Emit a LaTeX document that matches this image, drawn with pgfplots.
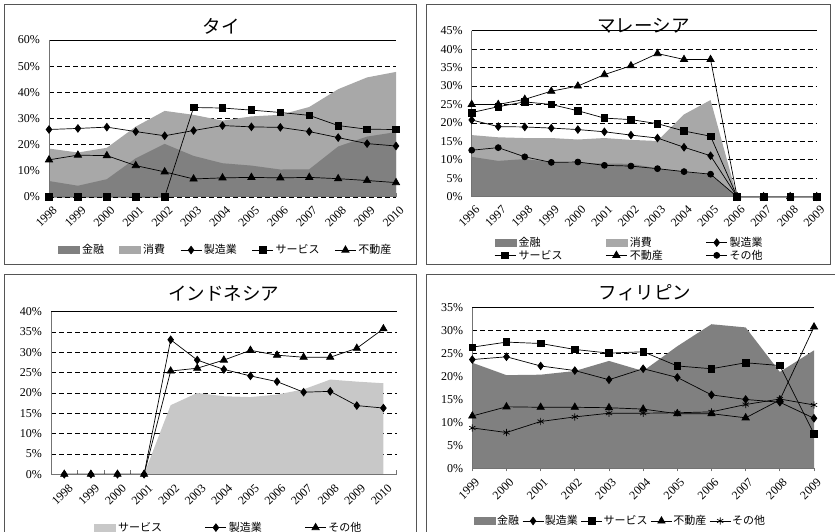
\documentclass[border=0pt]{standalone}
\usepackage{fontspec}
\setmainfont{Liberation Serif}
\newfontfamily\jp{Noto Sans CJK JP}
\usepackage{pgfplots}
\pgfplotsset{compat=1.18}

\definecolor{fin}{RGB}{128,128,128}
\definecolor{cons}{RGB}{168,168,168}
\definecolor{serv}{RGB}{200,200,200}
\definecolor{frame}{RGB}{85,85,85}
\definecolor{axisgray}{RGB}{115,115,115}

\pgfplotsset{
  panel/.style={
    scale only axis, clip=false, anchor=south west,
    axis x line*=bottom, axis y line*=left,
    axis line style={axisgray, line width=1pt, -},
    ymajorgrids,
    major grid style={black, line width=0.7pt, dash pattern=on 5pt off 3pt},
    ymin=0,
    tick align=inside,
    major tick length=4pt,
    ytick style={draw=none},
    xtick style={draw=axisgray, line width=0.8pt},
    /pgf/number format/assume math mode=true,
    /pgf/number format/1000 sep={},
    yticklabel style={font=\fontsize{12}{12}\selectfont, inner sep=0pt, xshift=-9pt},
    xticklabel style={font=\fontsize{12}{12}\selectfont, inner sep=0pt,
      xshift=6pt, yshift=-11pt, rotate=45, anchor=east},
    legend style={draw=none, fill=none, inner sep=0pt,
      font=\jp\fontsize{11}{13}\selectfont, nodes={inner sep=1pt}},
    legend cell align=left,
    legend image code/.code={%
      \draw[mark repeat=2, mark phase=2, ##1] plot coordinates {(0pt,0pt) (10.5pt,0pt) (21pt,0pt)};},
  },
  ser/.style={black, line width=0.7pt, mark options={solid, fill=black}},
  arealeg/.style={legend image code/.code={\fill[##1] (0pt,-4pt) rectangle (22pt,4pt);}},
  dia/.style={ser, mark=diamond*, mark size=3.8pt},
  sqr/.style={ser, mark=square*, mark size=3.3pt},
  tri/.style={ser, mark=triangle*, mark size=4.2pt},
  cir/.style={ser, mark=*, mark size=3pt},
  sta/.style={ser, mark=asterisk, mark size=3.6pt},
}

\begin{document}
\begin{tikzpicture}
\path[use as bounding box] (0pt,0pt) rectangle (835pt,532pt);

% panel frames
\draw[frame, line width=0.8pt] (4pt,268pt) rectangle (416pt,528pt);
\draw[frame, line width=0.8pt] (426pt,268pt) rectangle (830pt,528pt);
\draw[frame, line width=0.8pt] (4pt,0pt) -- (4pt,258pt) -- (416pt,258pt) -- (416pt,0pt);
\draw[frame, line width=0.8pt] (426pt,0pt) -- (426pt,258pt) -- (835pt,258pt);

% panel titles
\node[font=\jp\fontsize{18.5}{18.5}\selectfont] at (221pt,506pt) {タイ};
\node[font=\jp\fontsize{18.5}{18.5}\selectfont] at (643.5pt,506.5pt) {マレーシア};
\node[font=\jp\fontsize{18.5}{18.5}\selectfont] at (223.5pt,238.5pt) {インドネシア};
\node[font=\jp\fontsize{18.5}{18.5}\selectfont] at (645pt,239pt) {フィリピン};

% ---------------- Thailand ----------------
\begin{axis}[panel, at={(49pt,335pt)}, width=347pt, height=157pt,
  xmin=1998, xmax=2010, ymax=60,
  xtick={1998,...,2010},
  ytick={0,10,...,60}, yticklabels={0\%,10\%,20\%,30\%,40\%,50\%,60\%},
  legend columns=5,
  legend style={at={(0.026,-0.338)}, anchor=west,
    /tikz/every odd column/.append style={column sep=1pt},
    /tikz/every even column/.append style={column sep=14pt}},
]
\addplot[fill=cons, draw=none, forget plot] coordinates {
  (1998,18.5) (1999,17.0) (2000,18.8) (2001,26.9) (2002,32.9) (2003,31.4) (2004,29.2)
  (2005,30.8) (2006,31.4) (2007,34.4) (2008,41.2) (2009,45.7) (2010,47.8)} \closedcycle;
\addplot[fill=fin, draw=none, arealeg] coordinates {
  (1998,6.1) (1999,4.3) (2000,6.8) (2001,14.8) (2002,20.3) (2003,15.7) (2004,12.9)
  (2005,12.0) (2006,10.5) (2007,10.6) (2008,19.3) (2009,23.1) (2010,24.8)} \closedcycle;
\addlegendentry{金融}
\addlegendimage{fill=cons, draw=none, arealeg}
\addlegendentry{消費}
\addplot[dia] coordinates {
  (1998,25.8) (1999,26.2) (2000,26.7) (2001,25.0) (2002,23.4) (2003,25.4) (2004,27.3)
  (2005,26.8) (2006,26.6) (2007,25.0) (2008,22.7) (2009,20.4) (2010,19.5)};
\addlegendentry{製造業}
\addplot[sqr] coordinates {
  (1998,0) (1999,0) (2000,0) (2001,0) (2002,0) (2003,34.2) (2004,34.0)
  (2005,33.2) (2006,32.3) (2007,31.2) (2008,27.3) (2009,25.9) (2010,25.8)};
\addlegendentry{サービス}
\addplot[tri] coordinates {
  (1998,14.2) (1999,16.0) (2000,15.8) (2001,12.0) (2002,9.6) (2003,6.9) (2004,7.3)
  (2005,7.5) (2006,7.3) (2007,7.5) (2008,7.0) (2009,6.3) (2010,5.5)};
\addlegendentry{不動産}
\draw[black, line width=0.8pt] (rel axis cs:0,1) -- (rel axis cs:1,1);
\draw[axisgray, line width=1pt] (rel axis cs:0,1) -- (rel axis cs:0,0) -- (rel axis cs:1,0);
\end{axis}

% ---------------- Malaysia ----------------
\begin{axis}[panel, at={(471.7pt,335.3pt)}, width=345pt, height=166pt,
  xmin=1996, xmax=2009, ymax=45,
  xtick={1996,...,2009},
  ytick={0,5,...,45}, yticklabels={0\%,5\%,10\%,15\%,20\%,25\%,30\%,35\%,40\%,45\%},
  legend columns=3,
  legend style={at={(0.0646,-0.315)}, anchor=west,
    /tikz/every odd column/.append style={column sep=1pt},
    /tikz/every even column/.append style={column sep=42pt}},
]
\addplot[fill=cons, draw=none, forget plot] coordinates {
  (1996,16.7) (1997,16.1) (1998,15.9) (1999,15.9) (2000,15.5) (2001,15.9) (2002,15.4)
  (2003,15.1) (2004,22.3) (2005,26.2) (2006,0) (2007,0) (2008,0) (2009,0)} \closedcycle;
\addplot[fill=fin, draw=none, arealeg] coordinates {
  (1996,10.8) (1997,9.7) (1998,10.2) (1999,9.4) (2000,9.2) (2001,9.0) (2002,8.9)
  (2003,7.7) (2004,6.8) (2005,5.9) (2006,0) (2007,0) (2008,0) (2009,0)} \closedcycle;
\addlegendentry{金融}
\addlegendimage{fill=cons, draw=none, arealeg}
\addlegendentry{消費}
\addplot[dia] coordinates {
  (1996,20.8) (1997,19.0) (1998,18.9) (1999,18.6) (2000,18.2) (2001,17.6) (2002,16.7)
  (2003,15.9) (2004,13.4) (2005,11.1) (2006,0) (2007,0) (2008,0) (2009,0)};
\addlegendentry{製造業}
\addplot[sqr] coordinates {
  (1996,22.8) (1997,24.4) (1998,25.7) (1999,25.0) (2000,23.3) (2001,21.3) (2002,20.9)
  (2003,19.8) (2004,17.8) (2005,16.4) (2006,0) (2007,0) (2008,0) (2009,0)};
\addlegendentry{サービス}
\addplot[tri] coordinates {
  (1996,25.0) (1997,25.0) (1998,26.4) (1999,28.6) (2000,30.0) (2001,33.1) (2002,35.5)
  (2003,38.8) (2004,37.2) (2005,37.2) (2006,0) (2007,0) (2008,0) (2009,0)};
\addlegendentry{不動産}
\addplot[cir] coordinates {
  (1996,12.6) (1997,13.3) (1998,10.8) (1999,9.3) (2000,9.4) (2001,8.5) (2002,8.3)
  (2003,7.6) (2004,6.8) (2005,6.1) (2006,0) (2007,0) (2008,0) (2009,0)};
\addlegendentry{その他}
\draw[black, line width=0.8pt] (rel axis cs:0,1) -- (rel axis cs:1,1);
\draw[axisgray, line width=1pt] (rel axis cs:0,1) -- (rel axis cs:0,0) -- (rel axis cs:1,0);
\end{axis}

% ---------------- Indonesia ----------------
\begin{axis}[panel, at={(51pt,57.7pt)}, width=345.7pt, height=162.6pt,
  xmin=1997.5, xmax=2010.5, ymax=40,
  xtick={1998,...,2010},
  major x tick style={draw=none},
  minor xtick={1997.5,1998.5,...,2010.5},
  minor tick length=4pt,
  minor x tick style={draw=axisgray, line width=0.8pt},
  xticklabel style={yshift=-1pt},
  ytick={0,5,...,40}, yticklabels={0\%,5\%,10\%,15\%,20\%,25\%,30\%,35\%,40\%},
  legend columns=3,
  legend style={at={(0.124,-0.328)}, anchor=west,
    /tikz/every odd column/.append style={column sep=1pt},
    /tikz/every even column/.append style={column sep=42pt}},
]
\addplot[fill=serv, draw=none, arealeg] coordinates {
  (1998,0) (1999,0) (2000,0) (2001,0) (2002,17.0) (2003,20.0) (2004,19.2)
  (2005,19.0) (2006,19.6) (2007,20.9) (2008,23.3) (2009,22.8) (2010,22.4)} \closedcycle;
\addlegendentry{サービス}
\addplot[dia] coordinates {
  (1998,0) (1999,0) (2000,0) (2001,0) (2002,33.1) (2003,28.1) (2004,25.8)
  (2005,24.2) (2006,22.8) (2007,20.2) (2008,20.4) (2009,16.9) (2010,16.3)};
\addlegendentry{製造業}
\addplot[tri] coordinates {
  (1998,0) (1999,0) (2000,0) (2001,0) (2002,25.4) (2003,26.1) (2004,28.1)
  (2005,30.5) (2006,29.3) (2007,28.8) (2008,28.8) (2009,31.0) (2010,35.8)};
\addlegendentry{その他}
\draw[black, line width=0.8pt] (rel axis cs:0,1) -- (rel axis cs:1,1);
\draw[axisgray, line width=1pt] (rel axis cs:0,1) -- (rel axis cs:0,0) -- (rel axis cs:1,0);
\end{axis}

% ---------------- Philippines ----------------
\begin{axis}[panel, at={(472.3pt,63.7pt)}, width=341.7pt, height=160.6pt,
  xmin=1999, xmax=2009, ymax=35,
  xtick={1999,...,2009},
  tick align=outside, major tick length=3pt,
  yticklabel style={xshift=3pt},
  xticklabel style={xshift=1pt, yshift=2pt},
  ytick={0,5,...,35}, yticklabels={0\%,5\%,10\%,15\%,20\%,25\%,30\%,35\%},
  legend columns=5,
  legend style={at={(0.005,-0.328)}, anchor=west,
    /tikz/every odd column/.append style={column sep=0pt},
    /tikz/every even column/.append style={column sep=2pt}},
]
\addplot[fill=fin, draw=none, arealeg] coordinates {
  (1999,23.0) (2000,20.3) (2001,20.4) (2002,21.2) (2003,23.4) (2004,21.2)
  (2005,26.6) (2006,31.4) (2007,30.7) (2008,21.0) (2009,25.7)} \closedcycle;
\addlegendentry{金融}
\addplot[dia] coordinates {
  (1999,23.7) (2000,24.3) (2001,22.3) (2002,21.3) (2003,19.3) (2004,21.7)
  (2005,19.8) (2006,16.0) (2007,15.0) (2008,14.4) (2009,10.9)};
\addlegendentry{製造業}
\addplot[sqr] coordinates {
  (1999,26.4) (2000,27.5) (2001,27.2) (2002,25.9) (2003,25.1) (2004,25.4)
  (2005,22.3) (2006,21.7) (2007,23.0) (2008,22.4) (2009,7.5)};
\addlegendentry{サービス}
\addplot[tri] coordinates {
  (1999,11.4) (2000,13.4) (2001,13.3) (2002,13.3) (2003,13.2) (2004,12.9)
  (2005,11.9) (2006,11.9) (2007,11.0) (2008,14.9) (2009,30.8)};
\addlegendentry{不動産}
\addplot[sta] coordinates {
  (1999,8.8) (2000,7.8) (2001,10.2) (2002,11.2) (2003,12.0) (2004,12.0)
  (2005,12.1) (2006,12.3) (2007,13.9) (2008,15.1) (2009,13.8)};
\addlegendentry{その他}
\draw[black, line width=0.8pt] (rel axis cs:0,1) -- (rel axis cs:1,1);
\draw[axisgray, line width=1pt] (rel axis cs:0,1) -- (rel axis cs:0,0) -- (rel axis cs:1,0);
\end{axis}
\end{tikzpicture}
\end{document}
